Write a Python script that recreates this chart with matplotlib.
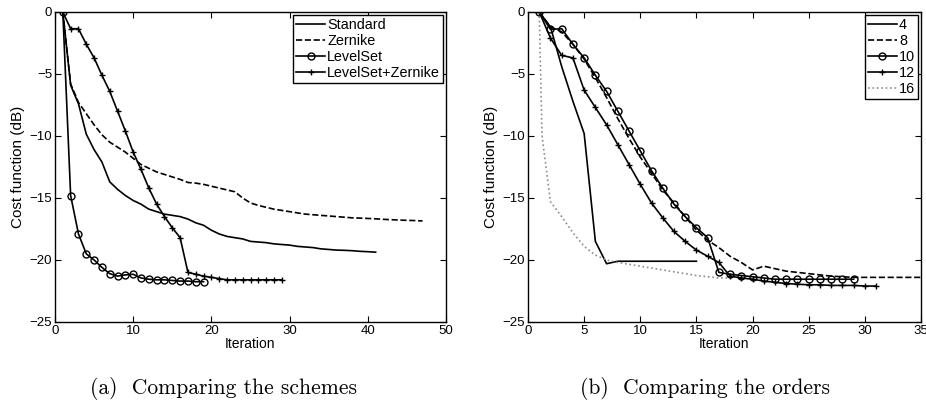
import numpy as np
import matplotlib.pyplot as plt

plt.rcParams['font.family'] = ['Liberation Sans', 'DejaVu Sans']

# (a) schemes
std_y = [0, -5.9, -7.4, -9.85, -11.1, -12.1, -13.7, -14.3, -14.8, -15.2,
         -15.5, -15.9, -16.1, -16.3, -16.4, -16.5, -16.7, -17.0, -17.2, -17.6,
         -17.9, -18.1, -18.2, -18.3, -18.5, -18.55, -18.6, -18.7, -18.75, -18.8,
         -18.9, -18.95, -19.0, -19.1, -19.15, -19.2, -19.22, -19.25, -19.3, -19.33,
         -19.37]
zer_y = [0, -5.8, -7.3, -8.2, -9.1, -9.9, -10.5, -10.9, -11.3, -11.8,
         -12.3, -12.6, -12.9, -13.1, -13.3, -13.5, -13.75, -13.8, -13.9, -14.05,
         -14.2, -14.35, -14.5, -15.0, -15.4, -15.6, -15.75, -15.9, -16.0, -16.1,
         -16.2, -16.3, -16.35, -16.4, -16.45, -16.5, -16.55, -16.6, -16.62, -16.65,
         -16.68, -16.72, -16.75, -16.78, -16.8, -16.82, -16.85]
ls_y = [0, -14.8, -17.9, -19.5, -20.0, -20.6, -21.1, -21.3, -21.2, -21.15,
        -21.45, -21.55, -21.6, -21.6, -21.65, -21.7, -21.7, -21.75, -21.75]
lsz_y = [0, -1.35, -1.35, -2.6, -3.7, -5.1, -6.4, -8.0, -9.6, -11.3,
         -12.7, -14.2, -15.5, -16.5, -17.4, -18.2, -21.0, -21.15, -21.3, -21.4,
         -21.5, -21.6, -21.6, -21.6, -21.6, -21.6, -21.6, -21.6, -21.6]

# (b) orders
o4_y = [0, -1.2, -4.4, -7.2, -9.8, -18.5, -20.3, -20.1, -20.1, -20.1,
        -20.1, -20.1, -20.1, -20.1, -20.1]
o8_y = [0, -1.2, -1.6, -2.6, -3.8, -5.3, -6.9, -8.6, -10.2, -11.7,
        -13.0, -14.35, -15.4, -16.5, -17.6, -18.4, -19.0, -19.7, -20.2, -20.8,
        -20.5, -20.7, -20.9, -21.0, -21.1, -21.2, -21.3, -21.35, -21.4, -21.4,
        -21.4, -21.4, -21.4, -21.4, -21.4]
o10_y = [0, -1.4, -1.35, -2.6, -3.7, -5.1, -6.4, -8.0, -9.6, -11.2,
         -12.8, -14.2, -15.5, -16.5, -17.4, -18.2, -21.0, -21.15, -21.25, -21.35,
         -21.45, -21.55, -21.55, -21.55, -21.55, -21.55, -21.55, -21.55, -21.55]
o12_y = [0, -2.1, -3.5, -3.7, -6.3, -7.7, -9.1, -10.7, -12.3, -13.9,
         -15.4, -16.6, -17.7, -18.5, -19.2, -19.7, -20.2, -21.3, -21.45, -21.55,
         -21.7, -21.8, -21.9, -21.95, -22.0, -22.0, -22.05, -22.05, -22.05, -22.1,
         -22.1]
o16_x = [1, 1.25, 2, 3, 4, 5, 6, 7, 8, 9, 10, 11, 12, 13, 14, 15, 16, 17, 18]
o16_y = [0, -10.0, -15.3, -16.5, -17.8, -18.9, -19.6, -20.0, -20.2, -20.35,
         -20.5, -20.65, -20.8, -20.95, -21.1, -21.25, -21.35, -21.45, -21.45]


def it(y):
    return np.arange(1, len(y) + 1)


fig = plt.figure(figsize=(9.26, 4.01), dpi=100)
axa = fig.add_axes([55 / 926, 79 / 401, 391 / 926, 310 / 401])
axb = fig.add_axes([528 / 926, 79 / 401, 393 / 926, 310 / 401])

lw = 1.2
mk = dict(markersize=5, markerfacecolor='none', markeredgewidth=1.0)

axa.plot(it(std_y), std_y, '-', color='k', lw=lw, label='Standard')
axa.plot(it(zer_y), zer_y, '--', color='k', lw=lw, label='Zernike')
axa.plot(it(ls_y), ls_y, '-o', color='k', lw=lw, label='LevelSet', **mk)
axa.plot(it(lsz_y), lsz_y, '-+', color='k', lw=lw, label='LevelSet+Zernike', **mk)
axa.set_xlim(0, 50)

axb.plot(it(o4_y), o4_y, '-', color='k', lw=lw, label='4')
axb.plot(it(o8_y), o8_y, '--', color='k', lw=lw, label='8')
axb.plot(it(o10_y), o10_y, '-o', color='k', lw=lw, label='10', **mk)
axb.plot(it(o12_y), o12_y, '-+', color='k', lw=lw, label='12', **mk)
axb.plot(o16_x, o16_y, ':', color='0.55', lw=lw, label='16')
axb.set_xlim(0, 35)

for ax in (axa, axb):
    ax.set_ylim(-25, 0)
    ax.set_yticks(np.arange(-25, 1, 5))
    ax.tick_params(direction='in', top=True, right=True, labelsize=9.5, length=4, pad=2)
    ax.set_xlabel('Iteration', fontsize=10, labelpad=0)
    ax.set_ylabel('Cost function (dB)', fontsize=11, labelpad=3)
    for s in ax.spines.values():
        s.set_linewidth(1.0)
    leg = ax.legend(loc='upper right', fontsize=10.4, frameon=True, fancybox=False,
                    edgecolor='k', framealpha=1, handlelength=2.0,
                    borderaxespad=0.2, borderpad=0.2, labelspacing=0.15,
                    handletextpad=0.15)
    leg.get_frame().set_linewidth(1.0)

fig.text(224 / 926, 1 - 389 / 401, '(a)  Comparing the schemes', family='cmr10',
         fontsize=15.5, ha='center', va='center')
fig.text(705 / 926, 1 - 389 / 401, '(b)  Comparing the orders', family='cmr10',
         fontsize=15.5, ha='center', va='center')

fig.savefig('out.png', dpi=100)
